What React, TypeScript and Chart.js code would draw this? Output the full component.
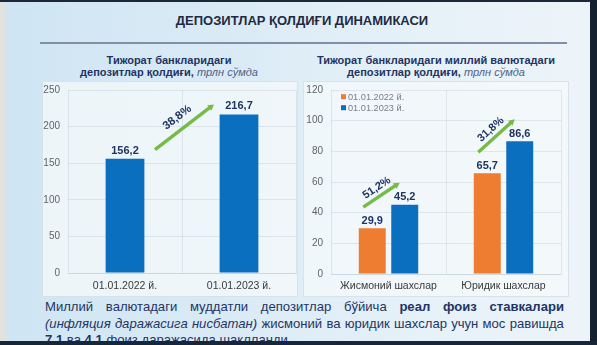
import React, { useEffect, useRef } from "react";
import { Chart, registerables } from "chart.js";

Chart.register(...registerables);

// ---------- DATA ----------
const pageTitle = "ДЕПОЗИТЛАР ҚОЛДИҒИ ДИНАМИКАСИ";

const totalTitleBold = ["Тижорат банкларидаги", "депозитлар қолдиғи,"];
const unitText = "трлн сўмда";
const totalCategories = ["01.01.2022 й.", "01.01.2023 й."];
const totalValues = [156.2, 216.7];
const totalGrowth = "38,8%";
const totalAxisMax = 250;
const totalAxisStep = 50;

const nationalTitleBold = ["Тижорат банкларидаги миллий валютадаги", "депозитлар қолдиғи,"];
const nationalCategories = ["Жисмоний шахслар", "Юридик шахслар"];
const nationalSeriesNames = ["01.01.2022 й.", "01.01.2023 й."];
const national2022 = [29.9, 65.7];
const national2023 = [45.2, 86.6];
const nationalGrowth = ["51,2%", "31,8%"];
const nationalAxisMax = 120;
const nationalAxisStep = 20;

// body text lines: [word, style] where style: "" normal, "b" bold, "i" italic
const bodyLine1: [string, string][] = [
  ["Миллий", ""], ["валютадаги", ""], ["муддатли", ""], ["депозитлар", ""], ["бўйича", ""],
  ["реал", "b"], ["фоиз", "b"], ["ставкалари", "b"],
];
const bodyLine2: [string, string][] = [
  ["(инфляция", "i"], ["даражасига", "i"], ["нисбатан)", "i"],
  ["жисмоний", ""], ["ва", ""], ["юридик", ""], ["шахслар", ""], ["учун", ""], ["мос", ""], ["равишда", ""],
];
const bodyLine3: [string, string][] = [
  ["7.1", "b"], ["ва", ""], ["4.1", "b"], ["фоиз", ""], ["даражасида", ""], ["шаклланди.", ""],
];

// ---------- STYLE ----------
const FONT = '"Liberation Sans", Arial, sans-serif';
const BLUE = "#0b6fbf";
const ORANGE = "#ee7d31";
const GREEN = "#76bb48";
const NAVY = "#1f3463";
const GRID = "rgba(150,165,180,0.22)";

Chart.defaults.font.family = FONT;

const fmt = (v: number) => v.toFixed(1).replace(".", ",");

function drawValueLabel(ctx: CanvasRenderingContext2D, x: number, y: number, v: number) {
  ctx.save();
  ctx.fillStyle = NAVY;
  ctx.font = `bold 11px ${FONT}`;
  ctx.textAlign = "center";
  ctx.textBaseline = "middle";
  ctx.fillText(fmt(v), x, y);
  ctx.restore();
}

function drawGrowthArrow(
  ctx: CanvasRenderingContext2D,
  x1: number, y1: number, x2: number, y2: number,
  label: string, offset: number, fontSize: number
) {
  const ang = Math.atan2(y2 - y1, x2 - x1);
  const c = Math.cos(ang);
  const s = Math.sin(ang);
  const head = 6;
  const hw = 3.4;
  ctx.save();
  ctx.strokeStyle = GREEN;
  ctx.fillStyle = GREEN;
  ctx.lineWidth = 3.4;
  ctx.lineCap = "butt";
  ctx.beginPath();
  ctx.moveTo(x1, y1);
  ctx.lineTo(x2 - c * head * 0.7, y2 - s * head * 0.7);
  ctx.stroke();
  ctx.beginPath();
  ctx.moveTo(x2, y2);
  ctx.lineTo(x2 - c * head - s * hw, y2 - s * head + c * hw);
  ctx.lineTo(x2 - c * head + s * hw, y2 - s * head - c * hw);
  ctx.closePath();
  ctx.fill();
  ctx.translate((x1 + x2) / 2, (y1 + y2) / 2);
  ctx.rotate(ang);
  ctx.fillStyle = NAVY;
  ctx.font = `bold ${fontSize}px ${FONT}`;
  ctx.textAlign = "center";
  ctx.textBaseline = "middle";
  ctx.fillText(label, 0, -offset);
  ctx.restore();
}

const totalPlugin = {
  id: "totalAnnotations",
  afterDatasetsDraw(chart: any) {
    const ctx = chart.ctx;
    const meta = chart.getDatasetMeta(0);
    meta.data.forEach((bar: any, i: number) => drawValueLabel(ctx, bar.x, bar.y - 8, totalValues[i]));
    const a = meta.data[0];
    const b = meta.data[1];
    drawGrowthArrow(ctx, a.x + 30, a.y - 9, b.x - 25, b.y - 10, totalGrowth, 12, 11.5);
  },
};

const nationalPlugin = {
  id: "nationalAnnotations",
  afterDatasetsDraw(chart: any) {
    const ctx = chart.ctx;
    const m0 = chart.getDatasetMeta(0);
    const m1 = chart.getDatasetMeta(1);
    m0.data.forEach((bar: any, i: number) => drawValueLabel(ctx, bar.x, bar.y - 7, national2022[i]));
    m1.data.forEach((bar: any, i: number) => drawValueLabel(ctx, bar.x, bar.y - 7.5, national2023[i]));
    nationalCategories.forEach((_, i) => {
      const a = m0.data[i];
      const b = m1.data[i];
      drawGrowthArrow(ctx, a.x - 9, a.y - 21, b.x - 5, b.y - 22, nationalGrowth[i], 8.5, 11);
    });
    // legend inside plot area
    const area = chart.chartArea;
    const colors = [ORANGE, BLUE];
    ctx.save();
    ctx.font = `9.2px ${FONT}`;
    ctx.textBaseline = "middle";
    ctx.textAlign = "left";
    nationalSeriesNames.forEach((name, i) => {
      const cy = area.top + 6.7 + i * 11;
      ctx.fillStyle = colors[i];
      ctx.fillRect(area.left + 10, cy - 2.5, 5, 5);
      ctx.fillStyle = "#7a7f88";
      ctx.fillText(name, area.left + 17, cy + 0.5);
    });
    ctx.restore();
  },
};

function BarPanel(props: { config: any; left: number; top: number; width: number; height: number }) {
  const ref = useRef<HTMLCanvasElement | null>(null);
  useEffect(() => {
    if (!ref.current) return;
    const chart = new Chart(ref.current, props.config);
    return () => chart.destroy();
  }, []);
  return (
    <canvas
      ref={ref}
      width={props.width}
      height={props.height}
      style={{ position: "absolute", left: props.left, top: props.top, width: props.width, height: props.height }}
    />
  );
}

function makeScales(max: number, step: number, yWidth: number, xHeight: number, xPad: number) {
  return {
    x: {
      grid: { color: GRID, drawTicks: false, offset: true },
      border: { color: GRID },
      ticks: { color: "#3a3a3a", font: { size: 10.5 }, padding: xPad },
      afterFit: (s: any) => { s.height = xHeight; },
    },
    y: {
      min: 0,
      max,
      ticks: { stepSize: step, color: "#5f6368", font: { size: 10 }, padding: 8 },
      grid: { color: GRID, drawTicks: false },
      border: { display: false },
      afterFit: (s: any) => { s.width = yWidth; },
    },
  };
}

const totalConfig = {
  type: "bar",
  data: {
    labels: totalCategories,
    datasets: [
      { data: totalValues, backgroundColor: BLUE, barPercentage: 0.68, categoryPercentage: 0.5 },
    ],
  },
  options: {
    animation: false,
    responsive: false,
    layout: { padding: { top: 5, right: 2, left: 0, bottom: 0 } },
    plugins: { legend: { display: false }, tooltip: { enabled: false } },
    scales: makeScales(totalAxisMax, totalAxisStep, 27, 23, 7),
  },
  plugins: [totalPlugin],
};

const nationalConfig = {
  type: "bar",
  data: {
    labels: nationalCategories,
    datasets: [
      { label: nationalSeriesNames[0], data: national2022, backgroundColor: ORANGE, barPercentage: 0.83, categoryPercentage: 0.565 },
      { label: nationalSeriesNames[1], data: national2023, backgroundColor: BLUE, barPercentage: 0.83, categoryPercentage: 0.565 },
    ],
  },
  options: {
    animation: false,
    responsive: false,
    layout: { padding: { top: 5, right: 7, left: 0, bottom: 0 } },
    plugins: { legend: { display: false }, tooltip: { enabled: false } },
    scales: makeScales(nationalAxisMax, nationalAxisStep, 31, 22, 6),
  },
  plugins: [nationalPlugin],
};

function Subtitle(props: { lines: string[]; cx: number }) {
  return (
    <div
      style={{
        position: "absolute",
        left: props.cx - 150,
        top: 54,
        width: 300,
        textAlign: "center",
        font: `bold 11px ${FONT}`,
        lineHeight: "12px",
        color: NAVY,
      }}
    >
      <div>{props.lines[0]}</div>
      <div>
        {props.lines[1]}{" "}
        <span style={{ fontWeight: "normal", fontStyle: "italic", color: "#4f5f86" }}>{unitText}</span>
      </div>
    </div>
  );
}

function BodyLine(props: { words: [string, string][]; justify: boolean }) {
  return (
    <div
      style={{
        display: "flex",
        justifyContent: props.justify ? "space-between" : "flex-start",
        gap: props.justify ? 0 : "0.28em",
        whiteSpace: "nowrap",
        height: 16.5,
      }}
    >
      {props.words.map(([w, st], i) => (
        <span
          key={i}
          style={{
            fontWeight: st === "b" ? "bold" : "normal",
            fontStyle: st === "i" ? "italic" : "normal",
          }}
        >
          {w}
        </span>
      ))}
    </div>
  );
}

export default function App() {
  return (
    <div
      style={{
        position: "fixed",
        left: 0,
        top: 0,
        width: 597,
        height: 345,
        overflow: "hidden",
        background: "linear-gradient(90deg, #cfe5f3 0%, #d9eaf5 35%, #e6f1f8 70%, #edf4f9 100%)",
        fontFamily: FONT,
      }}
    >
      {/* left pale strip */}
      <div style={{ position: "absolute", left: 0, top: 0, width: 10, height: 345, background: "linear-gradient(90deg, #e4e2da, rgba(228,226,218,0))" }} />
      {/* title */}
      <div
        style={{
          position: "absolute",
          left: 0,
          top: 13,
          width: 604,
          textAlign: "center",
          font: `bold 13px ${FONT}`,
          color: "#1e2a44",
          lineHeight: "16px",
        }}
      >
        {pageTitle}
      </div>
      <div style={{ position: "absolute", left: 40, top: 42, width: 527, height: 2, background: "#7f8fa5" }} />
      <Subtitle lines={totalTitleBold} cx={169} />
      <Subtitle lines={nationalTitleBold} cx={436} />
      {/* panels */}
      <div style={{ position: "absolute", left: 42, top: 81, width: 254, height: 214, background: "rgba(246,249,251,0.75)", border: "1px solid rgba(200,212,222,0.6)" }} />
      <div style={{ position: "absolute", left: 303, top: 81, width: 264, height: 214, background: "rgba(246,249,251,0.75)", border: "1px solid rgba(200,212,222,0.6)" }} />
      <BarPanel config={totalConfig} left={41} top={76} width={257} height={220} />
      <BarPanel config={nationalConfig} left={300} top={76} width={268} height={220} />
      {/* body text */}
      <div
        style={{
          position: "absolute",
          left: 45,
          top: 299,
          width: 519,
          font: `13.1px ${FONT}`,
          lineHeight: "16.5px",
          color: "#1f3565",
        }}
      >
        <BodyLine words={bodyLine1} justify={true} />
        <BodyLine words={bodyLine2} justify={true} />
        <BodyLine words={bodyLine3} justify={false} />
      </div>
      {/* dark frame */}
      <div style={{ position: "absolute", left: 0, top: 0, width: 597, height: 2, background: "#1c2838" }} />
      <div style={{ position: "absolute", left: 590, top: 0, width: 7, height: 345, background: "#16212f" }} />
      <div style={{ position: "absolute", left: 0, top: 341, width: 597, height: 4, background: "#18263a" }} />
    </div>
  );
}
